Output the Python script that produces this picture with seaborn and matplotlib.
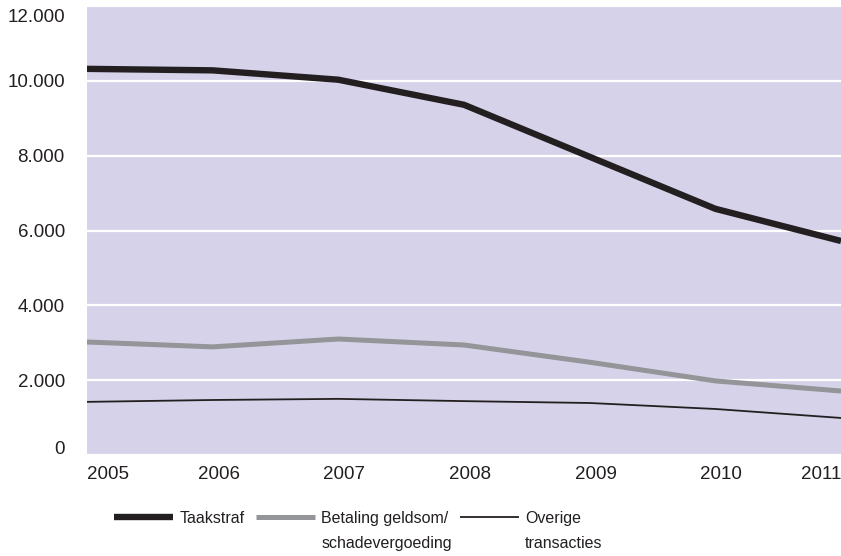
"""Transacties per jaar, 2005-2011."""

import matplotlib
matplotlib.use("Agg")
import matplotlib.pyplot as plt
import matplotlib.transforms as mtransforms
import pandas as pd
import seaborn as sns

jaren = [2005, 2006, 2007, 2008, 2009, 2010, 2011]
taakstraf = [10320, 10280, 10030, 9360, 7970, 6580, 5720]
betaling = [3020, 2890, 3100, 2940, 2480, 1980, 1710]
overige = [1420, 1470, 1500, 1440, 1390, 1230, 990]

labels = ["Taakstraf", "Betaling geldsom/\nschadevergoeding", "Overige\ntransacties"]

BG = "#d6d2e9"
ZWART = "#231f20"
GRIJS = "#939598"

sns.set_theme(style="white")
plt.rcParams["font.family"] = ["Liberation Sans", "DejaVu Sans"]

df = pd.DataFrame({"jaar": jaren, "taak": taakstraf, "bet": betaling, "ov": overige})

fig = plt.figure(figsize=(8.41, 5.56), dpi=100)
ax = fig.add_axes([87 / 841, 101 / 556, 1 - 87 / 841, 449 / 556])
ax.set_facecolor(BG)

stijlen = [("taak", ZWART, 4.6), ("bet", GRIJS, 3.6), ("ov", ZWART, 1.3)]
for (kol, kleur, lw), lab in zip(stijlen, labels):
    sns.lineplot(data=df, x="jaar", y=kol, color=kleur, linewidth=lw,
                 label=lab, ax=ax, legend=False, solid_capstyle="butt")

ax.set_xlim(jaren[0], jaren[-1])
ax.set_ylim(0, 12000)
yt = list(range(0, 12001, 2000))
ax.set_yticks(yt)
ax.set_yticklabels([f"{v:,}".replace(",", ".") for v in yt])
ax.set_xticks(jaren)
ax.set_xticklabels([str(j) for j in jaren])
ax.grid(axis="y", color="white", linewidth=1.6)
ax.grid(axis="x", visible=False)
ax.set_axisbelow(True)
for s in ax.spines.values():
    s.set_visible(False)
ax.set_xlabel("")
ax.set_ylabel("")
ax.tick_params(axis="y", length=0, pad=16, labelsize=13.5, labelcolor="#231f20")
ax.tick_params(axis="x", length=0, pad=8, labelsize=13.5, labelcolor="#231f20")

# eerste/laatste labels binnen de figuur houden
tl = ax.get_yticklabels()
tl[0].set_va("bottom")
tl[-1].set_va("top")
omlaag = mtransforms.ScaledTranslation(0, -3 / 100, fig.dpi_scale_trans)
for t in (tl[0], tl[-1]):
    t.set_transform(t.get_transform() + omlaag)
xl = ax.get_xticklabels()
xl[0].set_ha("left")
xl[-1].set_ha("right")
schuif = mtransforms.ScaledTranslation(6 / 100, 0, fig.dpi_scale_trans)
for t in xl[1:-1]:
    t.set_transform(t.get_transform() + schuif)

# legenda: eerste regel naast de lijn, tweede regel eronder
LEG_FONT = 11.5
handles = ax.get_lines()[:3]
eerste = [l.split("\n")[0] for l in labels]
leg = fig.legend(handles, eerste, loc="upper left",
                 bbox_to_anchor=(114 / 841, 1 - 511 / 556), ncol=3,
                 frameon=False, borderpad=0, borderaxespad=0,
                 handlelength=3.7, handletextpad=0.4, columnspacing=0.7,
                 prop={"size": LEG_FONT})
for t in leg.get_texts():
    t.set_color("#231f20")

fig.canvas.draw()
r = fig.canvas.get_renderer()
for t, lab in zip(leg.get_texts(), labels):
    delen = lab.split("\n")
    if len(delen) > 1:
        bb = t.get_window_extent(r)
        fig.text(bb.x0 / fig.bbox.width, (bb.y0 - 25) / fig.bbox.height, delen[1],
                 ha="left", va="bottom", color="#231f20", size=LEG_FONT)

fig.savefig("out.png", dpi=100)
